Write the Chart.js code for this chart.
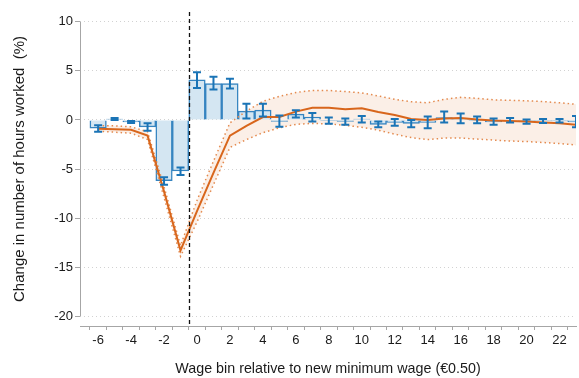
<!DOCTYPE html>
<html>
<head>
<meta charset="utf-8">
<script src="https://cdn.jsdelivr.net/npm/chart.js@4/dist/chart.umd.min.js"></script>
<style>
  html, body { margin: 0; padding: 0; background: #ffffff; }
  #wrap { width: 579px; height: 378px; position: relative; }
</style>
</head>
<body>
<div id="wrap"><canvas id="chart"></canvas></div>
<script>
// Wage bins relative to the new minimum wage (steps of €0.50)
const bins = [-6, -5, -4, -3, -2, -1, 0, 1, 2, 3, 4, 5, 6, 7, 8, 9, 10, 11, 12, 13, 14, 15, 16, 17, 18, 19, 20, 21, 22, 23];

// Bin-level estimates (bars) with their confidence intervals
const barValues = [-0.85, 0.1, -0.2, -0.7, -6.2, -5.2, 4.1, 3.7, 3.7, 0.9, 1.0, -0.15, 0.6, 0.3, -0.05, -0.15, 0.1, -0.45, -0.25, -0.35, -0.25, 0.25, 0.15, -0.05, -0.2, 0.0, -0.15, -0.1, -0.1, -0.2];
const barLow = [-1.2, 0.0, -0.3, -1.1, -6.6, -5.6, 3.25, 3.1, 3.2, 0.15, 0.35, -0.7, 0.25, -0.15, -0.4, -0.5, -0.25, -0.75, -0.6, -0.75, -0.85, -0.25, -0.35, -0.35, -0.5, -0.25, -0.4, -0.3, -0.25, -0.75];
const barHigh = [-0.55, 0.2, -0.1, -0.35, -5.85, -4.85, 4.85, 4.4, 4.2, 1.65, 1.65, 0.45, 1.0, 0.7, 0.25, 0.15, 0.4, -0.15, 0.1, 0.0, 0.35, 0.85, 0.65, 0.35, 0.15, 0.2, 0.05, 0.1, 0.1, 0.4];

// Cumulative effect (line) with its confidence band
const lineValues = [-0.9, -0.95, -1.0, -1.6, -7.3, -13.3, -9.3, -5.4, -1.6, -0.6, 0.3, 0.3, 0.85, 1.25, 1.25, 1.1, 1.2, 0.8, 0.5, 0.1, 0.0, 0.15, 0.2, 0.05, -0.05, -0.1, -0.15, -0.25, -0.35, -0.5];
const bandHigh = [-0.6, -0.6, -0.7, -1.2, -6.8, -12.8, -8.2, -4.2, -0.3, 0.9, 1.9, 2.4, 2.8, 3.0, 3.0, 2.9, 2.75, 2.45, 2.1, 1.85, 1.75, 2.1, 2.3, 2.2, 2.05, 2.0, 1.95, 1.87, 1.75, 1.6];
const bandLow = [-1.15, -1.25, -1.35, -2.0, -7.9, -13.9, -10.4, -6.6, -2.8, -2.0, -1.3, -0.8, -0.45, -0.35, -0.4, -0.55, -0.75, -1.05, -1.45, -1.8, -2.0, -1.85, -1.85, -1.95, -2.05, -2.15, -2.2, -2.3, -2.4, -2.55];

// Axis ticks
const yTickValues = [-20, -15, -10, -5, 0, 5, 10];
const xTickValues = [-7, -6, -5, -4, -3, -2, -1, 0, 1, 2, 3, 4, 5, 6, 7, 8, 9, 10, 11, 12, 13, 14, 15, 16, 17, 18, 19, 20, 21, 22, 23];
const xLabelValues = [-6, -4, -2, 0, 2, 4, 6, 8, 10, 12, 14, 16, 18, 20, 22];

// Position of the new minimum wage
const THRESHOLD = -0.5;

const pts = (vals) => bins.map((b, i) => ({ x: b, y: vals[i] }));

const ORANGE = '#d8661c';
const ORANGE_DOT = '#e48a4e';
const BAND_FILL = '#fbefe7';
const BLUE = '#1a74b6';
const AXIS_GREY = '#a6a6a6';
const FAMILY = "'Liberation Sans', Arial, sans-serif";
const TICK_FONT = { family: FAMILY, size: 13 };

// Error bars, the threshold line and the offset y axis line
const overlay = {
  id: 'overlay',
  afterDatasetsDraw(chart) {
    const { ctx, chartArea } = chart;
    const xs = chart.scales.x, ys = chart.scales.y;
    ctx.save();
    ctx.beginPath();
    ctx.rect(chartArea.left, chartArea.top - 2, chartArea.right - chartArea.left, chartArea.bottom - chartArea.top + 4);
    ctx.clip();
    // confidence intervals of the bin estimates
    ctx.strokeStyle = BLUE;
    ctx.lineWidth = 2;
    const cap = 4;
    bins.forEach((b, i) => {
      const x = xs.getPixelForValue(b);
      const y1 = ys.getPixelForValue(barLow[i]);
      const y2 = ys.getPixelForValue(barHigh[i]);
      ctx.beginPath();
      ctx.moveTo(x, y1); ctx.lineTo(x, y2);
      ctx.moveTo(x - cap, y1); ctx.lineTo(x + cap, y1);
      ctx.moveTo(x - cap, y2); ctx.lineTo(x + cap, y2);
      ctx.stroke();
    });
    ctx.restore();

    // vertical dashed line at the new minimum wage
    ctx.save();
    const tx = Math.round(xs.getPixelForValue(THRESHOLD)) + 0.5;
    ctx.strokeStyle = '#111111';
    ctx.lineWidth = 1.3;
    ctx.setLineDash([4, 3]);
    ctx.beginPath();
    ctx.moveTo(tx, chartArea.top);
    ctx.lineTo(tx, chartArea.bottom);
    ctx.stroke();
    ctx.restore();

    // y axis line, spanning only the labelled range
    ctx.save();
    const ax = Math.round(chartArea.left) + 0.5;
    ctx.strokeStyle = AXIS_GREY;
    ctx.lineWidth = 1;
    ctx.beginPath();
    ctx.moveTo(ax, ys.getPixelForValue(yTickValues[yTickValues.length - 1]));
    ctx.lineTo(ax, ys.getPixelForValue(yTickValues[0]));
    ctx.stroke();
    ctx.restore();
  }
};

new Chart(document.getElementById('chart'), {
  type: 'bar',
  data: {
    datasets: [
      {
        type: 'line', data: pts(bandHigh), fill: '+1', backgroundColor: BAND_FILL,
        borderWidth: 0, borderColor: 'rgba(0,0,0,0)', pointRadius: 0, tension: 0, order: 10
      },
      {
        type: 'line', data: pts(bandLow), fill: false,
        borderWidth: 0, borderColor: 'rgba(0,0,0,0)', pointRadius: 0, tension: 0, order: 9
      },
      {
        type: 'bar', data: pts(barValues), backgroundColor: '#d4e6f2', borderColor: '#3584c0',
        borderWidth: 1.5, barPercentage: 1, categoryPercentage: 1, grouped: false, order: 5
      },
      {
        type: 'line', data: pts(bandHigh), fill: false, borderColor: ORANGE_DOT, borderWidth: 1.5,
        borderDash: [1.5, 3], pointRadius: 0, tension: 0, order: 3
      },
      {
        type: 'line', data: pts(bandLow), fill: false, borderColor: ORANGE_DOT, borderWidth: 1.5,
        borderDash: [1.5, 3], pointRadius: 0, tension: 0, order: 3
      },
      {
        type: 'line', data: pts(lineValues), fill: false, borderColor: ORANGE, borderWidth: 2,
        pointRadius: 0, tension: 0, order: 2
      }
    ]
  },
  options: {
    responsive: true,
    maintainAspectRatio: false,
    animation: false,
    events: [],
    layout: { padding: { top: 12, right: 0, left: 0, bottom: 0 } },
    plugins: { legend: { display: false }, tooltip: { enabled: false } },
    scales: {
      x: {
        type: 'linear',
        min: -7.1,
        max: 23,
        offset: false,
        afterBuildTicks: (s) => { s.ticks = xTickValues.map(v => ({ value: v })); },
        afterFit: (s) => { s.height = 52; },
        ticks: {
          autoSkip: false, maxRotation: 0, padding: 3, color: '#1a1a1a', font: TICK_FONT,
          callback: (v) => xLabelValues.includes(v) ? String(v) : ''
        },
        grid: { drawOnChartArea: false, drawTicks: true, tickLength: 4, tickColor: AXIS_GREY },
        border: { display: true, color: AXIS_GREY, width: 1 },
        title: {
          display: true, text: 'Wage bin relative to new minimum wage (€0.50)',
          color: '#1a1a1a', font: { family: FAMILY, size: 14.3 }, padding: { top: 0, bottom: 0 }
        }
      },
      y: {
        type: 'linear',
        min: -21,
        max: 11,
        afterBuildTicks: (s) => { s.ticks = yTickValues.map(v => ({ value: v })); },
        afterFit: (s) => { s.width = 80; },
        ticks: { padding: 2, color: '#1a1a1a', font: TICK_FONT },
        grid: {
          drawOnChartArea: true, color: '#d2d2d2', lineWidth: 1,
          drawTicks: true, tickLength: 5, tickColor: AXIS_GREY
        },
        border: { display: false, dash: [1, 3] },
        title: {
          display: true, text: 'Change in number of hours worked  (%)',
          color: '#1a1a1a', font: { family: FAMILY, size: 15 }, padding: { top: 11, bottom: 0 }
        }
      }
    }
  },
  plugins: [overlay]
});
</script>
</body>
</html>
